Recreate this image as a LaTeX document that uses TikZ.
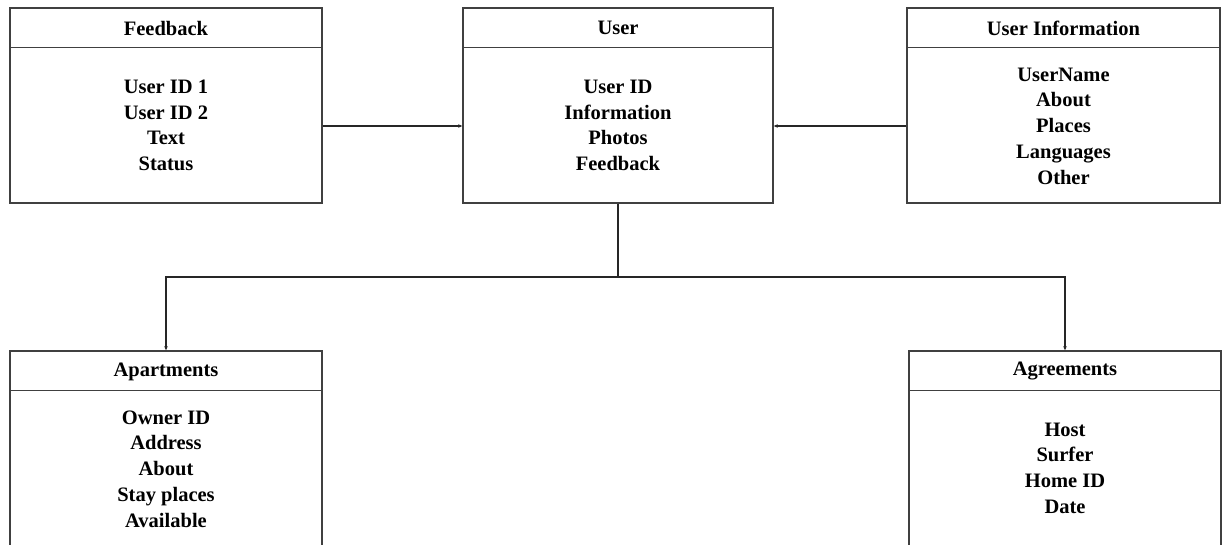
\documentclass[tikz,border=0pt]{standalone}
\usepackage{fontspec}
\setmainfont{Liberation Serif}
\usetikzlibrary{arrows.meta}
\tikzset{
  entity/.style={draw=black!75, line width=1.4pt, minimum width=#1, inner sep=0pt},
  head/.style={font=\fontsize{20.5}{24}\selectfont\bfseries, inner sep=0pt},
  body/.style={font=\fontsize{20.5}{25.7}\selectfont\bfseries, align=center, inner sep=0pt},
  sep/.style={draw=black!75, line width=1.2pt},
  link/.style={draw=black!85, line width=1.1pt, -{Stealth[length=4pt,width=3.5pt]}},
}
\begin{document}
\begin{tikzpicture}[x=1pt,y=-1pt]
\path[use as bounding box] (0,0) rectangle (1227,545);
\clip (0,0) rectangle (1227,545);
\fill[white] (0,0) rectangle (1227,545);

% top row
\node[entity=312pt, minimum height=195pt] (fb) at (166,105.5) {};
\node[entity=310pt, minimum height=195pt] (user) at (618,105.5) {};
\node[entity=313pt, minimum height=195pt] (info) at (1063.5,105.5) {};
% bottom row (runs past the lower edge)
\node[entity=312pt, minimum height=220pt] (apt) at (166,461) {};
\node[entity=312pt, minimum height=220pt] (agr) at (1065,461) {};

% header separators
\foreach \b in {fb,user,info,apt,agr}
  \draw[sep] ([yshift=-40pt]\b.north west) -- ([yshift=-40pt]\b.north east);

% titles
\node[head] (fbT) at (166,28) {Feedback};
\node[head] (userT) at (618,28) {User};
\node[head] (infoT) at (1063.5,28) {User Information};
\node[head] (aptT) at (166,372) {Apartments};
\node[head] (agrT) at (1065,371) {Agreements};

% attributes
\node[body] (fbB) at (166,125.5) {User ID 1\\User ID 2\\Text\\Status};
\node[body] (userB) at (618,125.5) {User ID\\Information\\Photos\\Feedback};
\node[body] (infoB) at (1063.5,126) {UserName\\About\\Places\\Languages\\Other};
\node[body] (aptB) at (166,469) {Owner ID\\Address\\About\\Stay places\\Available};
\node[body] (agrB) at (1065,468) {Host\\Surfer\\Home ID\\Date};

% connectors
\draw[link] ([yshift=-20.5pt]fb.east) -- ([yshift=-20.5pt]user.west);
\draw[link] ([yshift=-20.5pt]info.west) -- ([yshift=-20.5pt]user.east);
\coordinate (split) at (618,277);
\draw[link] (user.south) -- (split) -| (apt.north);
\draw[link] (split) -| (agr.north);
\end{tikzpicture}
\end{document}
